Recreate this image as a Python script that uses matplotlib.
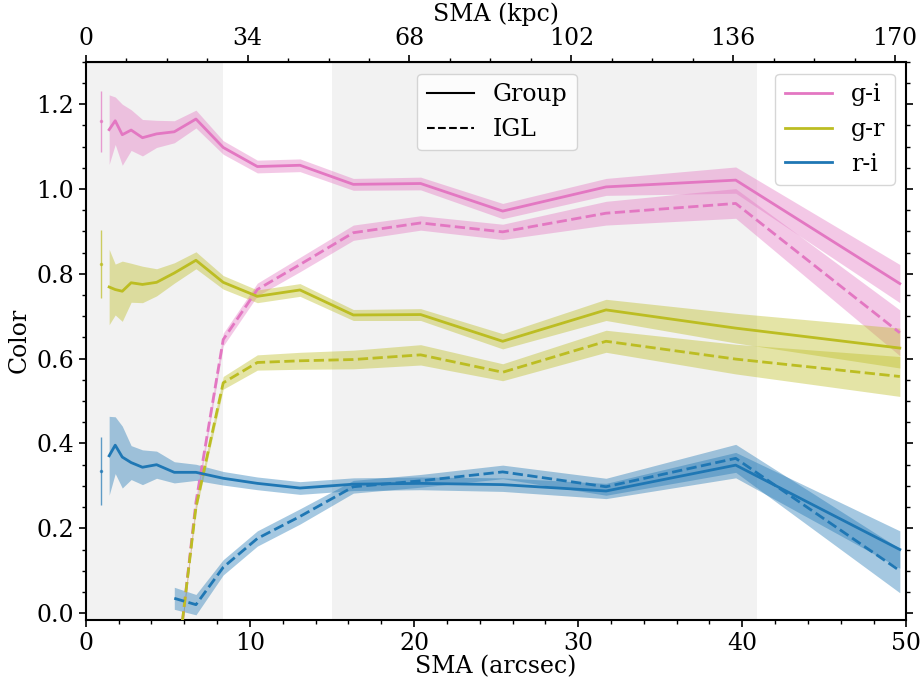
import numpy as np
import matplotlib
matplotlib.use('Agg')
import matplotlib.pyplot as plt
from matplotlib.lines import Line2D
from matplotlib.ticker import MultipleLocator

plt.rcParams['font.family'] = 'serif'
plt.rcParams['font.serif'] = ['DejaVu Serif']
plt.rcParams['font.size'] = 17

# radii (arcsec)
sma = [1.42, 1.79, 2.22, 2.76, 3.45, 4.31, 5.39, 6.71, 8.37, 10.45, 13.05,
       16.3, 20.4, 25.4, 31.7, 39.6, 49.6]
sma_igl = [5.39, 6.71, 8.37, 10.45, 13.05, 16.3, 20.4, 25.4, 31.7, 39.6, 49.6]

# group colours
gi_group = [1.140, 1.161, 1.128, 1.139, 1.121, 1.130, 1.135, 1.165, 1.098, 1.053,
            1.056, 1.011, 1.013, 0.948, 1.005, 1.021, 0.777]
gi_group_err = [0.082, 0.056, 0.072, 0.048, 0.043, 0.032, 0.026, 0.021, 0.016, 0.015,
                0.015, 0.014, 0.015, 0.018, 0.020, 0.031, 0.045]
gr_group = [0.769, 0.763, 0.759, 0.779, 0.775, 0.780, 0.802, 0.832, 0.780, 0.747,
            0.762, 0.703, 0.704, 0.641, 0.715, 0.672, 0.625]
gr_group_err = [0.089, 0.060, 0.071, 0.046, 0.043, 0.032, 0.024, 0.020, 0.016, 0.015,
                0.015, 0.013, 0.014, 0.018, 0.025, 0.035, 0.047]
ri_group = [0.371, 0.396, 0.368, 0.355, 0.344, 0.350, 0.332, 0.332, 0.318, 0.306,
            0.295, 0.304, 0.306, 0.303, 0.288, 0.349, 0.150]
ri_group_err = [0.093, 0.067, 0.073, 0.040, 0.041, 0.032, 0.025, 0.019, 0.016, 0.015,
                0.015, 0.015, 0.015, 0.016, 0.018, 0.030, 0.044]

# IGL colours
gi_igl = [-0.19, 0.262, 0.645, 0.763, 0.822, 0.897, 0.920, 0.899, 0.943, 0.966, 0.661]
gi_igl_err = [0.010, 0.010, 0.015, 0.015, 0.017, 0.018, 0.017, 0.018, 0.028, 0.035, 0.054]
gr_igl = [-0.18, 0.250, 0.543, 0.591, 0.595, 0.598, 0.609, 0.568, 0.641, 0.599, 0.558]
gr_igl_err = [0.010, 0.010, 0.015, 0.018, 0.020, 0.022, 0.024, 0.020, 0.026, 0.035, 0.047]
ri_igl = [0.035, 0.020, 0.108, 0.176, 0.228, 0.298, 0.312, 0.333, 0.298, 0.365, 0.100]
ri_igl_err = [0.026, 0.024, 0.018, 0.018, 0.018, 0.015, 0.015, 0.016, 0.020, 0.033, 0.052]

# systematic error bars at the left
sys_x = 0.93
sys_val = [1.160, 0.823, 0.336]
sys_err = [0.072, 0.080, 0.080]

colors = ['#e377c2', '#bcbd22', '#1f77b4']
labels = ['g-i', 'g-r', 'r-i']
kpc_per_arcsec = 3.448

fig = plt.figure(figsize=(9.23, 6.79), dpi=100)
ax = fig.add_axes([0.093, 0.087, 0.889, 0.822])

ax.axvspan(0, 8.35, color='#f2f2f2', zorder=0, lw=0)
ax.axvspan(15.0, 40.9, color='#f2f2f2', zorder=0, lw=0)

groups = [(gi_group, gi_group_err, gi_igl, gi_igl_err),
          (gr_group, gr_group_err, gr_igl, gr_igl_err),
          (ri_group, ri_group_err, ri_igl, ri_igl_err)]

for (g, ge, ig, ige), c, lab in zip(groups, colors, labels):
    g = np.array(g); ge = np.array(ge)
    ig = np.array(ig); ige = np.array(ige)
    ax.fill_between(sma, g - ge, g + ge, color=c, alpha=0.4, lw=0, zorder=1)
    ax.plot(sma, g, color=c, lw=2, zorder=3, label=lab)
    ax.fill_between(sma_igl, ig - ige, ig + ige, color=c, alpha=0.4, lw=0, zorder=1)
    ax.plot(sma_igl, ig, color=c, lw=2, ls='--', zorder=3)

for v, e, c in zip(sys_val, sys_err, colors):
    ax.errorbar(sys_x, v, yerr=e, color=c, fmt='.', ms=3, lw=1, alpha=0.7)

ax.set_xlim(0, 50)
ax.set_ylim(-0.016, 1.3)
ax.set_xlabel('SMA (arcsec)', labelpad=0)
ax.set_ylabel('Color')
ax.xaxis.set_major_locator(MultipleLocator(10))
ax.xaxis.set_minor_locator(MultipleLocator(2))
ax.yaxis.set_major_locator(MultipleLocator(0.2))
ax.yaxis.set_minor_locator(MultipleLocator(0.05))
ax.yaxis.set_ticks_position('both')
ax.tick_params(which='major', length=5, width=1.2)
ax.tick_params(which='minor', length=3, width=1)
for s in ax.spines.values():
    s.set_linewidth(1.5)

top = ax.secondary_xaxis('top', functions=(lambda x: x * kpc_per_arcsec,
                                             lambda x: x / kpc_per_arcsec))
top.set_xlabel('SMA (kpc)', labelpad=4)
top.set_xticks([0, 34, 68, 102, 136, 170])
top.xaxis.set_minor_locator(MultipleLocator(8.5))
top.tick_params(which='major', length=5, width=1.2)
top.tick_params(which='minor', length=3, width=1)

style_handles = [Line2D([], [], color='k', lw=1.5, ls='-'),
                 Line2D([], [], color='k', lw=1.5, ls='--')]
leg1 = ax.legend(style_handles, ['Group', 'IGL'], loc='upper center',
                 bbox_to_anchor=(0.501, 1.0))
ax.add_artist(leg1)
ax.legend(loc='upper right')

fig.savefig('out.png', dpi=100)
